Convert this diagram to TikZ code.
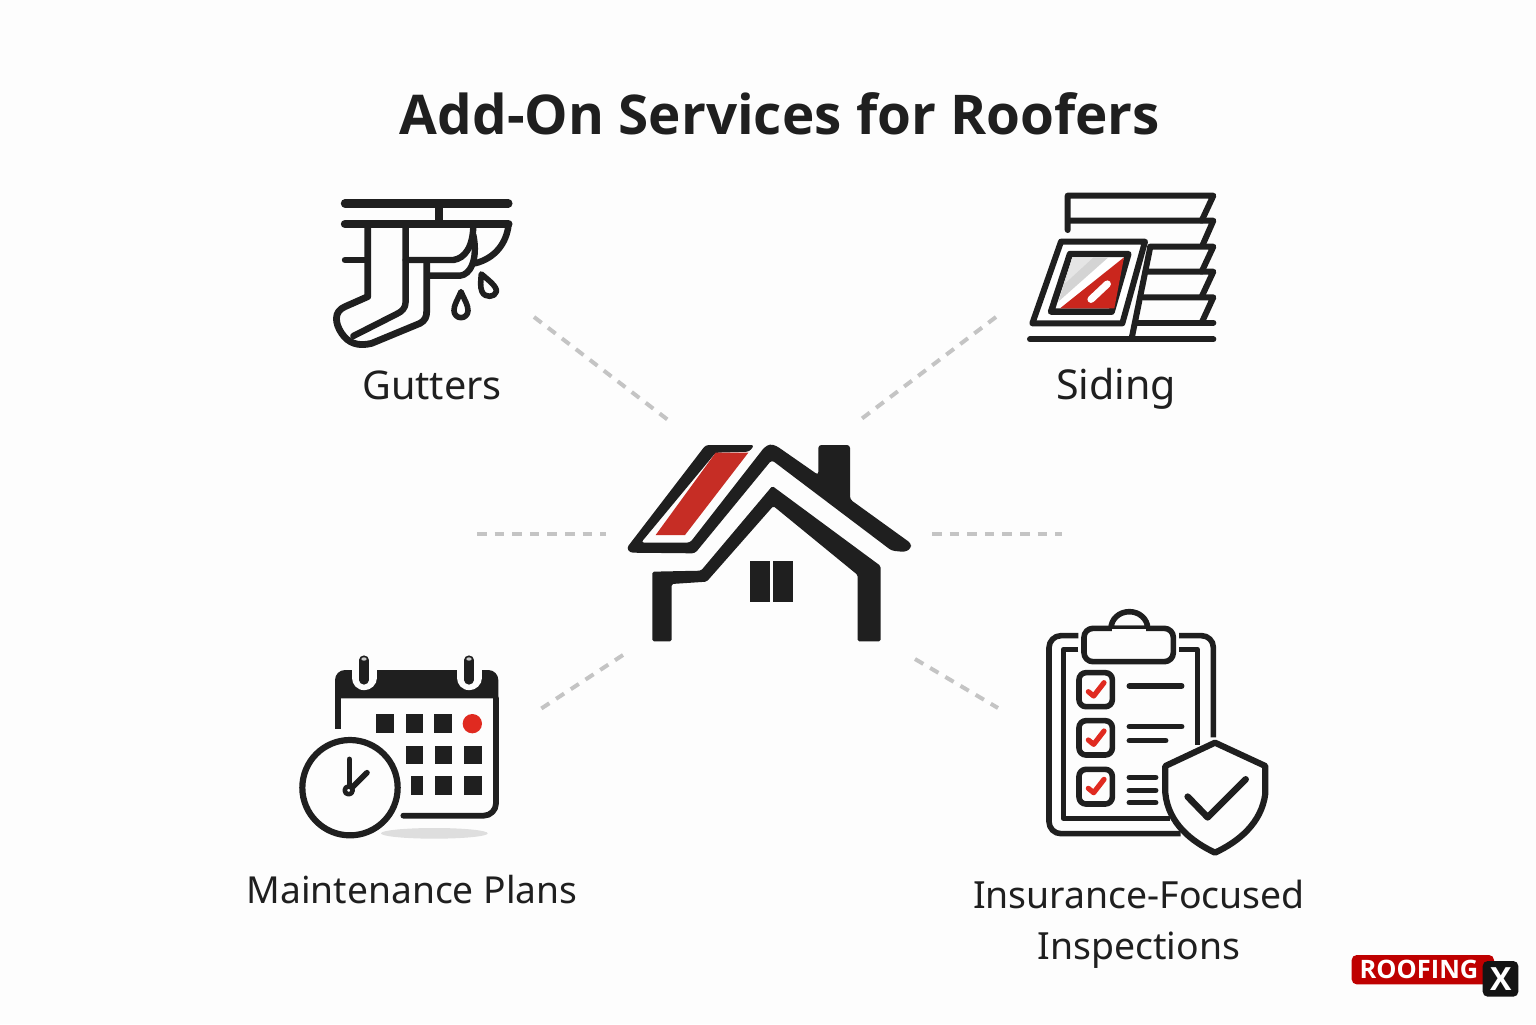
\documentclass[tikz,border=0pt]{standalone}
\usepackage{fontspec}
\setmainfont{Noto Sans}
\newfontfamily\headfont{Open Sans}
\definecolor{ink}{HTML}{1F1F1F}
\definecolor{roofred}{HTML}{C62D25}
\definecolor{brightred}{HTML}{E02A20}
\definecolor{dashgray}{HTML}{C4C4C4}
\definecolor{pagebg}{HTML}{FDFDFD}
\tikzset{
  pen/.style={draw=ink,line width=#1,line cap=round,line join=round},
  pen/.default=3pt,
  zoomed/.style={shift={#1},scale=0.33333},
  dashline/.style={draw=dashgray,line width=2pt,dash pattern=on 4.8pt off 4pt},
  label/.style={font=\fontsize{#1}{25.5}\selectfont,text=ink,align=center,inner sep=0pt,anchor=base},
  titlenode/.style={font=\headfont\fontsize{27.4}{32}\selectfont\bfseries,text=ink,inner sep=0pt,anchor=base},
  cell/.style={fill=ink,draw=none},
  tick/.style={draw=brightred,line width=2.6pt,line cap=round,line join=round},
}
\begin{document}
\begin{tikzpicture}[x=0.5pt,y=-0.5pt]
\useasboundingbox (0,0) rectangle (1536,1024);
\fill[pagebg] (0,0) rectangle (1536,1024);

\node[titlenode] (title) at (780,134.5) {Add-On Services for Roofers};

% dashed connectors
\coordinate (ga) at (534,317); \coordinate (gb) at (672,423);
\coordinate (sa) at (996,317); \coordinate (sb) at (856,423);
\coordinate (la) at (477,534); \coordinate (lb) at (606,534);
\coordinate (ra) at (932,534); \coordinate (rb) at (1062,534);
\coordinate (ma) at (623,655); \coordinate (mb) at (539,710);
\coordinate (ia) at (915,659); \coordinate (ib) at (998,708);
\draw[dashline] (ga) -- (gb);
\draw[dashline] (sa) -- (sb);
\draw[dashline] (la) -- (lb);
\draw[dashline] (ra) -- (rb);
\draw[dashline] (ma) -- (mb);
\draw[dashline] (ia) -- (ib);

% gutters icon
\begin{scope}[zoomed={(320,180)}]
  \draw[pen=4.2pt] (75,70) -- (565,70);
  \draw[pen=4.2pt] (75,132) -- (565,132);
  \draw[ink,line width=4pt] (358,72) -- (358,130);
  \draw[pen=3.2pt] (566,132) .. controls (560,190) and (525,235) .. (465,250);
  \draw[pen=3.2pt] (75,240) -- (143,240);
  \draw[pen=3.4pt] (143,132) -- (143,350) -- (75,380) .. controls (40,395) and (45,430) .. (65,460) .. controls (85,490) and (115,500) .. (155,490) -- (300,430) .. controls (315,422) and (320,410) .. (320,395) -- (320,250);
  \draw[pen=3.2pt] (257,132) -- (257,365) .. controls (257,385) and (245,395) .. (230,402) -- (100,468);
  \draw[pen=3.2pt] (257,240) -- (400,240) .. controls (435,235) and (460,200) .. (460,132);
  \draw[pen=3.2pt] (322,287) -- (420,287) .. controls (450,285) and (475,240) .. (460,165);
  \draw[pen=2.8pt] (423,335) .. controls (410,365) and (402,375) .. (402,392) arc[start angle=180,end angle=0,radius=21] .. controls (444,375) and (436,365) .. (423,335) -- cycle;
  \draw[pen=2.8pt] (484,282) .. controls (482,305) and (480,320) .. (486,335) .. controls (495,355) and (525,352) .. (529,335) .. controls (532,320) and (505,300) .. (484,282) -- cycle;
\end{scope}
\node[label=19.8] (gutters) at (432,399) {Gutters};

% siding icon
\begin{scope}[zoomed={(1015,180)}]
  \draw[pen=3pt] (158,150) -- (158,47) -- (595,47) -- (560,122);
  \draw[pen=3pt] (165,122) -- (595,122) -- (562,197);
  \draw[pen=3pt] (405,200) -- (595,200) -- (560,275);
  \draw[pen=3pt] (395,275) -- (595,275) -- (560,350);
  \draw[pen=3pt] (385,352) -- (595,352) -- (560,428);
  \draw[pen=3pt] (365,428) -- (595,428);
  \draw[pen=3pt] (45,478) -- (595,478);
  \draw[pen=3pt] (405,205) -- (350,475);
  \draw[pen=3pt,fill=white] (138,185) -- (390,185) -- (322,430) -- (52,430) -- cycle;
  \draw[pen=3.2pt,fill=white] (165,222) -- (340,222) -- (290,395) -- (108,395) -- cycle;
  \fill[black!17] (172,232) -- (280,232) -- (130,365) -- cycle;
  \fill[black!10] (172,232) -- (235,232) -- (150,310) -- cycle;
  \fill[brightred!90!black] (327,232) -- (298,385) -- (135,385) -- cycle;
  \draw[white,line width=3.6pt,line cap=round] (228,358) -- (277,312);
\end{scope}
\node[label=20.6] (siding) at (1116,399) {Siding};

% house icon
\begin{scope}[zoomed={(615,430)}]
  \fill[ink,rounded corners=1.5pt] (35,354) -- (272,45) -- (418,45) -- (403,65) -- (302,68) -- (78,338) -- (225,338) -- (448,52) -- (465,42) -- (485,48) -- (610,135) -- (610,45) -- (705,45) -- (705,208) -- (888,340) -- (888,355) -- (870,366) -- (830,362) -- (470,90) -- (240,370) -- (45,368) -- cycle;
  \fill[roofred] (302,68) -- (400,68) -- (210,315) -- (122,315) -- cycle;
  \fill[ink,rounded corners=0.8pt] (112,425) -- (258,422) -- (472,168) -- (797,408) -- (797,634) -- (728,634) -- (728,435) -- (475,228) -- (275,455) -- (170,462) -- (170,634) -- (112,634) -- cycle;
  \fill[ink] (406,392) rectangle (466,517);
  \fill[ink] (475,392) rectangle (533,517);
\end{scope}

% calendar icon
\begin{scope}[zoomed={(290,645)}]
  \fill[black!13] (433,565) ellipse[x radius=160,y radius=16];
  \fill[ink] (135,160) -- (135,105) arc[start angle=180,end angle=270,radius=30] -- (595,75) arc[start angle=270,end angle=360,radius=30] -- (625,160) -- cycle;
  \draw[pen=2.9pt,line cap=butt] (143,160) -- (143,252);
  \draw[pen=2.9pt] (618,160) -- (618,475) arc[start angle=0,end angle=90,radius=37] -- (340,512);
  \draw[pagebg,line width=12.5pt,line cap=round] (222,50) -- (222,98);
  \draw[pagebg,line width=12.5pt,line cap=round] (537,50) -- (537,98);
  \draw[ink,line width=4.6pt,line cap=round] (222,45) -- (222,105);
  \draw[ink,line width=4.6pt,line cap=round] (537,45) -- (537,105);
  \fill[black!20] (222,42) ellipse[x radius=8,y radius=5];
  \fill[black!20] (537,42) ellipse[x radius=8,y radius=5];
  \fill[cell] (258,208) rectangle (313,263);
  \fill[cell] (347,208) rectangle (400,263);
  \fill[cell] (433,208) rectangle (487,263);
  \fill[brightred] (547,236) circle[radius=29];
  \fill[cell] (347,302) rectangle (400,357);
  \fill[cell] (435,302) rectangle (487,357);
  \fill[cell] (522,302) rectangle (575,357);
  \fill[cell] (362,394) rectangle (400,449);
  \fill[cell] (435,394) rectangle (487,449);
  \fill[cell] (522,394) rectangle (575,449);
  \draw[pen=3.1pt,fill=pagebg] (180,428) circle[radius=143];
  \draw[pen=2.8pt] (178,343) -- (178,425);
  \draw[pen=2.8pt] (231,383) -- (182,432);
  \draw[pen=2.3pt,fill=pagebg] (176,436) circle[radius=12];
\end{scope}
\node[label=18.6] (maint) at (412,903.5) {Maintenance Plans};

% clipboard icon
\begin{scope}[zoomed={(1035,600)}]
  \draw[pen=2.8pt,line cap=butt] (130,107) -- (78,107) arc[start angle=270,end angle=180,radius=36] -- (42,665) arc[start angle=180,end angle=90,radius=36] -- (437,701);
  \draw[pen=2.8pt,line cap=butt] (432,107) -- (500,107) arc[start angle=270,end angle=360,radius=35] -- (535,412);
  \draw[pen=2.6pt,line cap=butt] (130,148) -- (85,148) -- (85,655) -- (405,655);
  \draw[pen=2.6pt,line cap=butt] (432,148) -- (487,148) -- (487,436);
  \draw[pen=2.8pt,fill=pagebg] (228,85) arc[start angle=180,end angle=360,x radius=55,y radius=50] -- cycle;
  \draw[pen=2.8pt,fill=pagebg,rounded corners=4.5pt] (147,85) rectangle (415,185);
  \fill[pagebg] (232,88) rectangle (334,100);
  \draw[pen=2.8pt,rounded corners=3.5pt] (132,218) rectangle (232,320);
  \draw[pen=2.8pt,rounded corners=3.5pt] (132,362) rectangle (232,465);
  \draw[pen=2.8pt,rounded corners=3.5pt] (132,508) rectangle (232,612);
  \draw[tick] (160,275) -- (176,288) -- (207,248);
  \draw[tick] (160,420) -- (176,433) -- (207,393);
  \draw[tick] (160,565) -- (176,578) -- (207,538);
  \draw[pen=2.8pt] (283,258) -- (440,258);
  \draw[pen=2.8pt] (283,380) -- (440,380);
  \draw[pen=2.8pt] (283,422) -- (392,422);
  \draw[pen=2.8pt] (283,532) -- (362,532);
  \draw[pen=2.8pt] (283,571) -- (362,571);
  \draw[pen=2.8pt] (283,608) -- (362,608);
  \draw[pen=3.1pt,fill=pagebg] (540,428) -- (691,498) -- (691,580) .. controls (680,670) and (610,725) .. (540,758) .. controls (470,725) and (400,670) .. (391,580) -- (391,498) -- cycle;
  \draw[pen=3.3pt] (458,590) -- (518,652) -- (632,538);
\end{scope}
\node[label=18.7] (insurance) at (1139,959) {Insurance-Focused\\[0pt]Inspections};

% logo
\begin{scope}[zoomed={(1340,945)}]
  \fill[red!75!black,rounded corners=2.5pt] (35,30) rectangle (462,118);
  \node[font=\headfont\fontsize{12.7}{14}\selectfont\bfseries,text=white,inner sep=0pt] (roofing) at (237,74) {ROOFING};
  \fill[black!92,rounded corners=2.5pt] (428,48) rectangle (535,155);
  \node[font=\headfont\fontsize{16}{18}\selectfont\bfseries,text=white,inner sep=0pt] (markx) at (482,103) {X};
\end{scope}
\end{tikzpicture}
\end{document}
